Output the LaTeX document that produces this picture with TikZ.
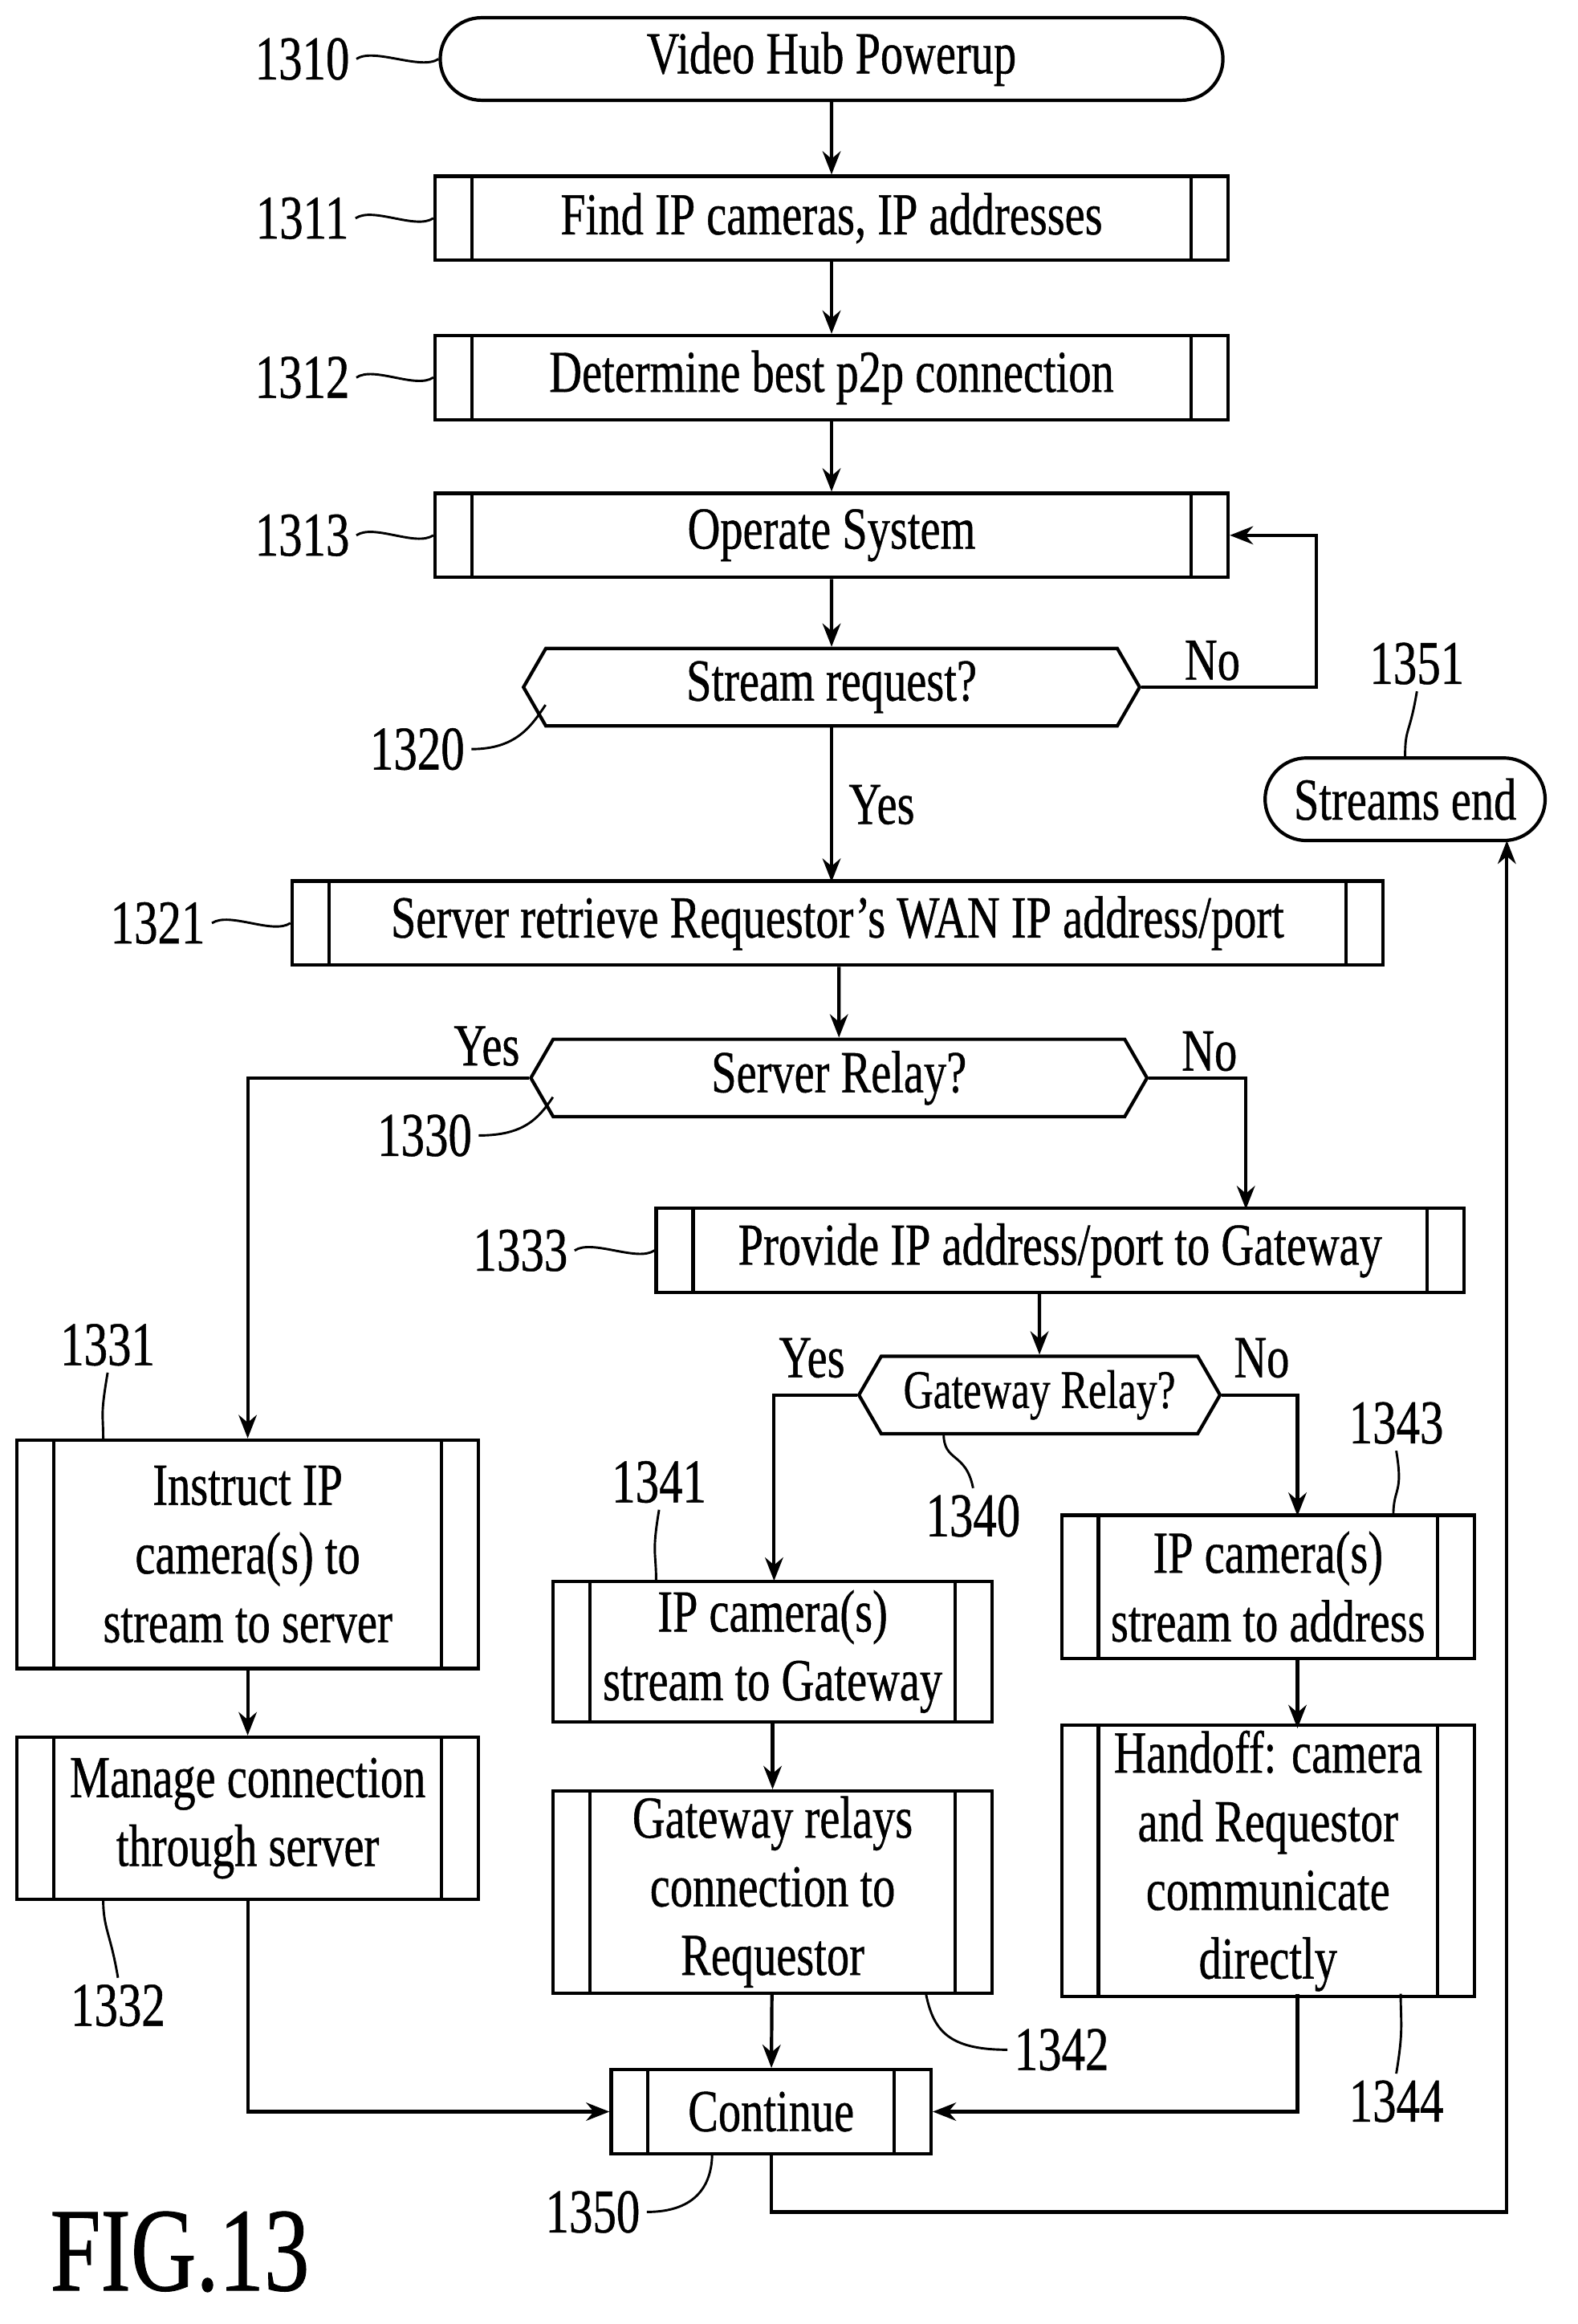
\documentclass[tikz,border=0pt]{standalone}
\usepackage{fontspec}
\setmainfont{Liberation Serif}[FakeStretch=0.76,FakeBold=0.6]
\usetikzlibrary{shapes.symbols,shapes.misc,arrows.meta}

\begin{document}
\begin{tikzpicture}[x=0.02cm,y=0.02cm,line width=1.3pt,
    every node/.style={font=\fontsize{23}{26.5}\selectfont, inner sep=2pt},
    term/.style={draw, rounded rectangle, minimum height=1.12cm},
    proc/.style={draw, rectangle, align=center, minimum height=1.14cm,
      path picture={\draw ([xshift=0.5cm]path picture bounding box.north west) --
                          ([xshift=0.5cm]path picture bounding box.south west)
                          ([xshift=-0.5cm]path picture bounding box.north east) --
                          ([xshift=-0.5cm]path picture bounding box.south east);}},
    dec/.style={draw, signal, signal to=west and east, signal pointer angle=120,
      minimum height=1.05cm, inner xsep=0pt},
    num/.style={font=\fontsize{24}{26}\selectfont},
    >={Stealth[length=9pt,width=7pt]}]
  \useasboundingbox (0,0) rectangle (1070,-1576);

  % main column
  \node[term, minimum width=10.76cm] (n1310) at (564,-40) {Video Hub Powerup};
  \node[proc, minimum width=10.76cm] (n1311) at (564,-148) {Find IP cameras, IP addresses};
  \node[proc, minimum width=10.76cm] (n1312) at (564,-256) {Determine best p2p connection};
  \node[proc, minimum width=10.76cm] (n1313) at (564,-363) {Operate System};
  \node[dec, minimum width=8.36cm] (n1320) at (564,-466) {Stream request?};
  \node[term, minimum width=3.94cm] (n1351) at (953,-542) {Streams end};
  \node[proc, minimum width=14.8cm] (n1321) at (568,-626) {Server retrieve Requestor\symbol{39}s WAN IP address/port};
  \node[dec, minimum width=8.36cm] (n1330) at (569,-731) {Server Relay?};
  \node[proc, minimum width=10.96cm] (n1333) at (719,-848) {Provide IP address/port to Gateway};
  \node[dec, minimum width=4.9cm, font=\fontsize{21}{24}\selectfont] (n1340) at (705,-946) {Gateway Relay?};
  % branches
  \node[proc, minimum width=6.26cm, minimum height=3.1cm] (n1331) at (168,-1054) {Instruct IP\\camera(s) to\\stream to server};
  \node[proc, minimum width=6.26cm, minimum height=2.2cm] (n1332) at (168,-1233) {Manage connection\\through server};
  \node[proc, minimum width=5.96cm, minimum height=1.9cm] (n1341) at (524,-1120) {IP camera(s)\\stream to Gateway};
  \node[proc, minimum width=5.96cm, minimum height=2.74cm] (n1342) at (524,-1283) {Gateway relays\\connection to\\Requestor};
  \node[proc, minimum width=5.6cm, minimum height=1.94cm] (n1343) at (860,-1076) {IP camera(s)\\stream to address};
  \node[proc, minimum width=5.6cm, minimum height=3.6cm] (n1344) at (860,-1262) {Handoff: camera\\and Requestor\\communicate\\directly};
  \node[proc, minimum width=4.34cm] (n1350) at (523,-1432) {Continue};

  % reference numbers
  \node[num] (l1310) at (205,-40) {1310};
  \node[num] (l1311) at (205,-148) {1311};
  \node[num] (l1312) at (205,-256) {1312};
  \node[num] (l1313) at (205,-363) {1313};
  \node[num] (l1320) at (283,-508) {1320};
  \node[num] (l1321) at (107,-626) {1321};
  \node[num] (l1330) at (288,-770) {1330};
  \node[num] (l1333) at (353,-848) {1333};
  \node[num] (l1331) at (73,-912) {1331};
  \node[num] (l1341) at (447,-1005) {1341};
  \node[num] (l1340) at (660,-1028) {1340};
  \node[num] (l1343) at (947,-965) {1343};
  \node[num] (l1332) at (80,-1360) {1332};
  \node[num] (l1342) at (720,-1390) {1342};
  \node[num] (l1344) at (947,-1425) {1344};
  \node[num] (l1350) at (402,-1500) {1350};
  \node[num] (l1351) at (961,-450) {1351};
  \node[font=\fontsize{46}{50}\selectfont] (fig) at (122,-1527) {FIG.13};

  % leader lines
  \foreach \a in {1310,1311,1312,1313,1321,1333}
    \draw[line width=0.9pt] (l\a.east) .. controls +(12,8) and +(-12,-8) .. (n\a.west);
  \draw[line width=0.9pt] (l1320.east) .. controls +(30,0) and +(-10,-15) .. (370,-478);
  \draw[line width=0.9pt] (l1330.east) .. controls +(30,0) and +(-10,-15) .. (375,-744);
  \draw[line width=0.9pt] (l1331.south) .. controls +(-5,-30) and +(0,20) .. (70,-977);
  \draw[line width=0.9pt] (l1341.south) .. controls +(-5,-30) and +(0,20) .. (445,-1072);
  \draw[line width=0.9pt] (l1343.south) .. controls +(5,-30) and +(0,20) .. (945,-1028);
  \draw[line width=0.9pt] (l1340.north) .. controls +(-5,25) and +(0,-20) .. (640,-972);
  \draw[line width=0.9pt] (l1351.south) .. controls +(-5,-30) and +(0,20) .. (n1351.north);
  \draw[line width=0.9pt] (l1332.north) .. controls +(-5,30) and +(0,-20) .. (70,-1288);
  \draw[line width=0.9pt] (l1342.west) .. controls +(-40,0) and +(5,-25) .. (628,-1352);
  \draw[line width=0.9pt] (l1344.north) .. controls +(5,30) and +(0,-20) .. (950,-1352);
  \draw[line width=0.9pt] (l1350.east) .. controls +(35,0) and +(0,-20) .. (483,-1460);

  % flow
  \draw[->] (n1310) -- (n1311);
  \draw[->] (n1311) -- (n1312);
  \draw[->] (n1312) -- (n1313);
  \draw[->] (n1313) -- (n1320);
  \draw[->] (n1320.east) -- node[anchor=south west, xshift=14pt, pos=0]{No} (893,-466) |- (n1313.east);
  \draw[->] (n1320.south) -- node[right=4pt]{Yes} (564,-598);
  \draw[->] (n1321.south -| n1330) -- (n1330);
  \draw[->] (n1330.west) -- node[above=2pt, pos=0.15]{Yes} (168,-731) -- (n1331.north);
  \draw[->] (n1330.east) -- node[anchor=south west, xshift=10pt, pos=0]{No} (845,-731) -- (845,-820);
  \draw[->] (n1333.south -| n1340) -- (n1340);
  \draw[->] (n1340.west) -- node[anchor=south east, xshift=-2pt, yshift=4pt, pos=0]{Yes} (525,-946) -- (525,-1072);
  \draw[->] (n1340.east) -- node[anchor=south west, xshift=2pt, yshift=4pt, pos=0]{No} (880,-946) -- (880,-1028);
  \draw[->] (n1331) -- (n1332);
  \draw[->] (n1341) -- (n1342);
  \draw[->] (880,-1125) -- (880,-1172);
  \draw[->] (n1332.south) |- (n1350.west);
  \draw[->] (n1342) -- (n1350);
  \draw[->] (880,-1352) |- (n1350.east);
  \draw[->] (n1350.south) -- (523,-1500) -| (1022,-570);
\end{tikzpicture}
\end{document}
